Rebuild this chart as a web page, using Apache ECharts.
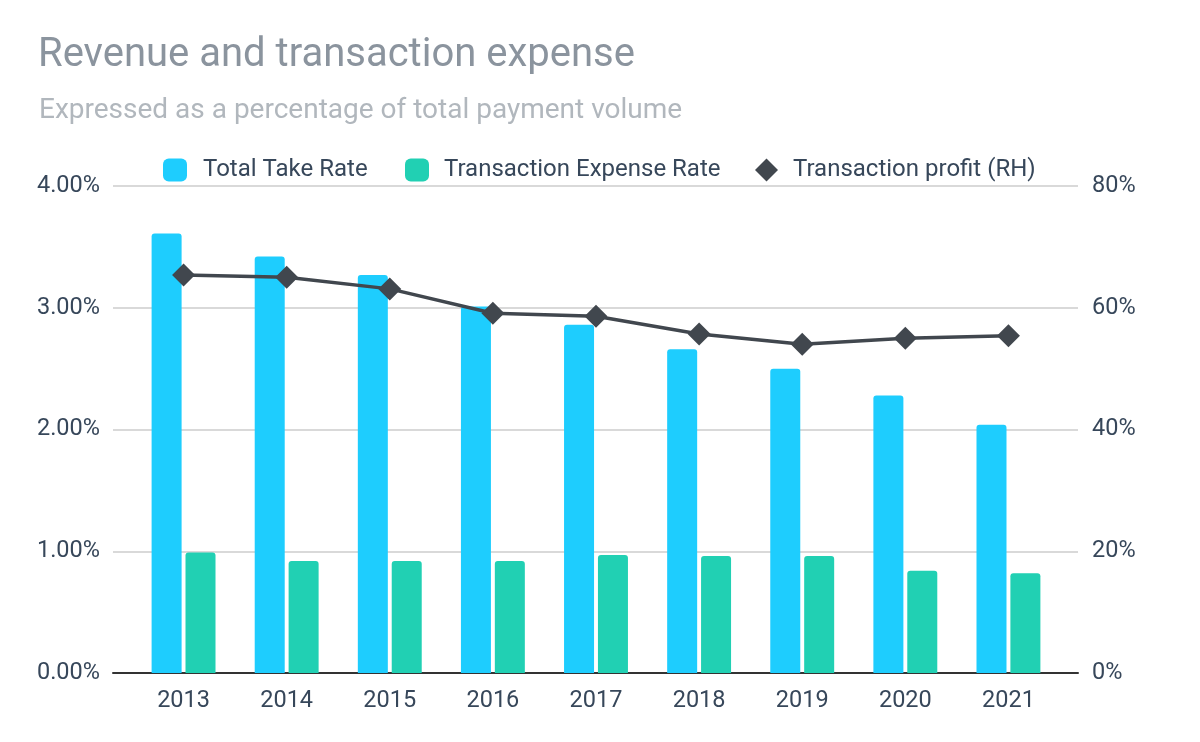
<!DOCTYPE html>
<html>
<head>
<meta charset="utf-8">
<script src="https://cdn.jsdelivr.net/npm/echarts@6/dist/echarts.min.js"></script>
<style>html,body{margin:0;padding:0;background:#fff}#c{width:1200px;height:742px}</style>
</head>
<body>
<div id="c"></div>
<script>
const years = ['2013','2014','2015','2016','2017','2018','2019','2020','2021'];
const totalTakeRate = [3.61, 3.42, 3.27, 3.01, 2.86, 2.66, 2.50, 2.28, 2.04];
const transactionExpenseRate = [0.99, 0.92, 0.92, 0.92, 0.97, 0.96, 0.96, 0.84, 0.82];
const transactionProfit = [65.4, 65.0, 63.1, 59.1, 58.6, 55.7, 54.0, 55.0, 55.4];
const leftTicks = [0, 1, 2, 3, 4];
const rightTicks = [0, 20, 40, 60, 80];

const FONT = 'Roboto';
const LABEL = '#37475a';
const chart = echarts.init(document.getElementById('c'));
const legendText = {fontFamily: FONT, fontSize: 24, color: LABEL};
chart.setOption({
  animation: false,
  textStyle: {fontFamily: FONT},
  title: [
    {text: 'Revenue and transaction expense', left: 33, top: 31,
     textStyle: {fontFamily: FONT, fontSize: 40, fontWeight: 'normal', color: '#8b949e'}},
    {text: 'Expressed as a percentage of total payment volume', left: 34, top: 92,
     textStyle: {fontFamily: FONT, fontSize: 28, fontWeight: 'normal', color: '#b1b7bd'}}
  ],
  legend: [
    {data: ['Total Take Rate'], left: 158, top: 153, itemWidth: 24, itemHeight: 23,
     itemStyle: {borderRadius: 3}, textStyle: Object.assign({padding: [0,0,0,11]}, legendText)},
    {data: ['Transaction Expense Rate'], left: 400, top: 153, itemWidth: 24, itemHeight: 23,
     itemStyle: {borderRadius: 3}, textStyle: Object.assign({padding: [0,0,0,10]}, legendText)},
    {data: [{name: 'Transaction profit (RH)', icon: 'diamond'}], left: 750, top: 153, itemWidth: 23, itemHeight: 23,
     textStyle: Object.assign({padding: [0,0,0,10]}, legendText)}
  ],
  grid: [
    {left: 113, right: 122, top: 186, bottom: 69},
    {left: 132, right: 140, top: 186, bottom: 69}
  ],
  xAxis: [
    {type: 'value', gridIndex: 0, min: 0, max: 1, axisLabel: {show: false}, axisTick: {show: false},
     splitLine: {show: false}, axisLine: {show: true, onZero: false, lineStyle: {color: '#333', width: 2}}},
    {type: 'category', gridIndex: 1, data: years, axisLine: {show: false}, axisTick: {show: false},
     axisLabel: {fontFamily: FONT, fontSize: 23.5, color: LABEL, margin: 16}}
  ],
  yAxis: [
    {type: 'value', gridIndex: 0, min: leftTicks[0], max: leftTicks[leftTicks.length-1], interval: 1,
     axisLine: {show: false}, axisTick: {show: false},
     axisLabel: {fontFamily: FONT, fontSize: 23.5, color: LABEL, margin: 13, formatter: v => v.toFixed(2) + '%'},
     splitLine: {lineStyle: {color: '#cccccc', width: 1.5}}},
    {type: 'value', gridIndex: 0, position: 'right', min: rightTicks[0], max: rightTicks[rightTicks.length-1], interval: 20,
     axisLine: {show: false}, axisTick: {show: false}, splitLine: {show: false},
     axisLabel: {fontFamily: FONT, fontSize: 23.5, color: LABEL, margin: 14, formatter: v => v + '%'}},
    {type: 'value', gridIndex: 1, min: 0, max: 4, show: false, splitLine: {show: false}},
    {type: 'value', gridIndex: 1, position: 'right', min: 0, max: 80, show: false, splitLine: {show: false}}
  ],
  series: [
    {name: 'Total Take Rate', type: 'bar', xAxisIndex: 1, yAxisIndex: 2, data: totalTakeRate,
     barWidth: 30, barGap: '13%', itemStyle: {color: '#1ecdfe', borderRadius: [3,3,0,0]}},
    {name: 'Transaction Expense Rate', type: 'bar', xAxisIndex: 1, yAxisIndex: 2, data: transactionExpenseRate,
     barWidth: 30, barGap: '13%', itemStyle: {color: '#21d0b3', borderRadius: [3,3,0,0]}},
    {name: 'Transaction profit (RH)', type: 'line', xAxisIndex: 1, yAxisIndex: 3, data: transactionProfit,
     symbol: 'diamond', symbolSize: 23, lineStyle: {color: '#41474e', width: 3.5},
     itemStyle: {color: '#41474e'}}
  ]
});
</script>
</body>
</html>
